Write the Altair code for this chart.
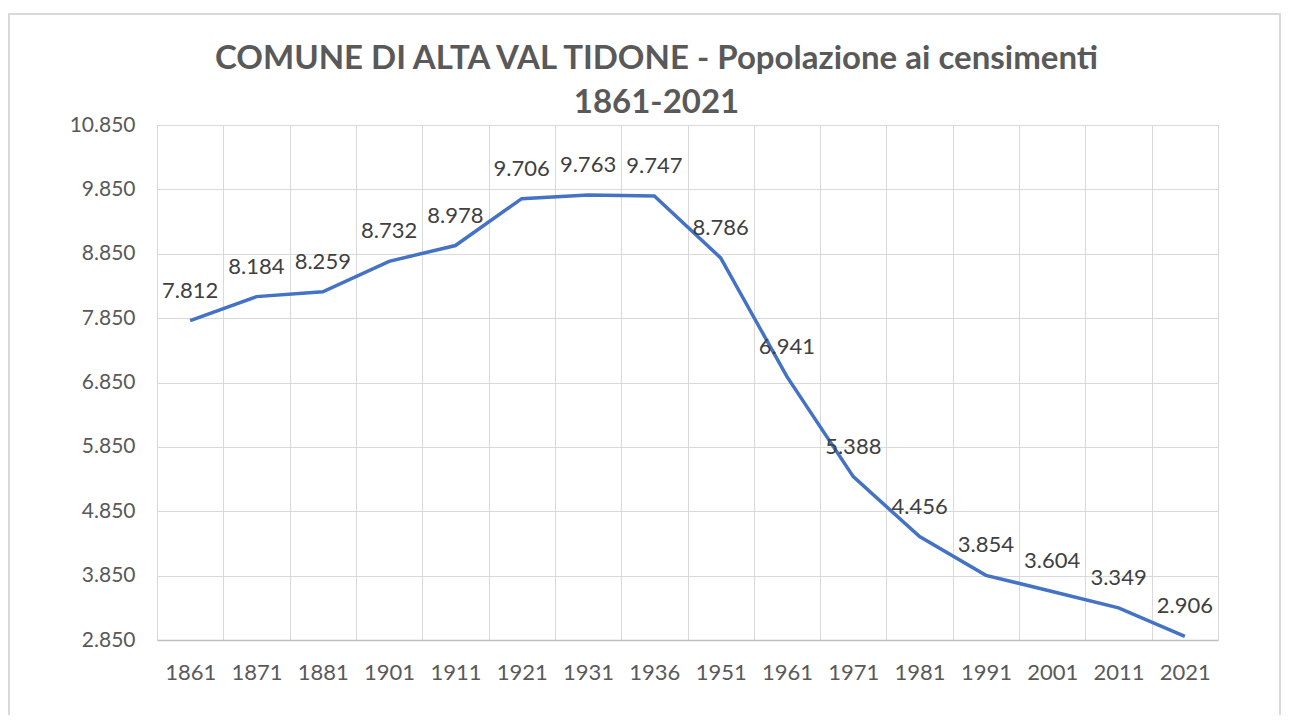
import altair as alt
import pandas as pd

years = ["1861", "1871", "1881", "1901", "1911", "1921", "1931", "1936",
         "1951", "1961", "1971", "1981", "1991", "2001", "2011", "2021"]
population = [7812, 8184, 8259, 8732, 8978, 9706, 9763, 9747,
              8786, 6941, 5388, 4456, 3854, 3604, 3349, 2906]
y_ticks = [2850, 3850, 4850, 5850, 6850, 7850, 8850, 9850, 10850]
title_lines = ["COMUNE DI ALTA VAL TIDONE - Popolazione ai censimenti", "1861-2021"]

df = pd.DataFrame({"anno": years, "pop": population})

FONT = "Lato"
TXT = "#595959"

x_axis = alt.Axis(tickBand="extent", grid=True, gridColor="#d9d9d9",
                  gridWidth=1, ticks=False, domainColor="#bfbfbf",
                  domainWidth=1.5, labelAngle=0, labelFont=FONT,
                  labelFontSize=22, labelColor=TXT, labelPadding=22)
x_scale = alt.Scale(type="band", paddingInner=0, paddingOuter=0)
y_axis = alt.Axis(values=y_ticks, grid=True, gridColor="#d9d9d9",
                  gridWidth=1, ticks=False, domain=False,
                  labelFont=FONT, labelFontSize=21, labelColor=TXT,
                  labelPadding=22,
                  labelExpr="replace(format(datum.value, ','), ',', '.')")
y_scale = alt.Scale(domain=[2850, 10850], nice=False, zero=False)

base = alt.Chart(df)

line = base.mark_line(color="#4472C4", strokeWidth=3.5).encode(
    x=alt.X("anno:N", sort=years, bandPosition=0.5, scale=x_scale,
            axis=x_axis, title=None),
    y=alt.Y("pop:Q", scale=y_scale, axis=y_axis, title=None),
)

labels = base.transform_calculate(
    lab="replace(format(datum.pop, ','), ',', '.')"
).mark_text(font=FONT, fontSize=22, color="#404040", dy=-30).encode(
    x=alt.X("anno:N", sort=years, bandPosition=0.5),
    y="pop:Q",
    text="lab:N",
)

border = alt.Chart(pd.DataFrame({"a": [0]})).mark_rect(
    fill=None, stroke="#d9d9d9", strokeWidth=2
).encode(x=alt.value(-148), x2=alt.value(1123), y=alt.value(-111), y2=alt.value(640))

chart = alt.layer(border, line, labels).properties(
    width=1061, height=515,
    autosize=alt.AutoSizeParams(type="none"),
    padding={"left": 149, "top": 117, "right": 64, "bottom": 75},
    title=alt.TitleParams(title_lines, font=FONT, fontSize=33, fontWeight="bold",
                          color=TXT, anchor="middle", dx=-31, offset=-140,
                          lineHeight=44, baseline="bottom"),
).configure_view(stroke="#d9d9d9", strokeWidth=1).configure(background="white")

chart.save("out.html", embed_options={"renderer": "svg", "actions": False})
